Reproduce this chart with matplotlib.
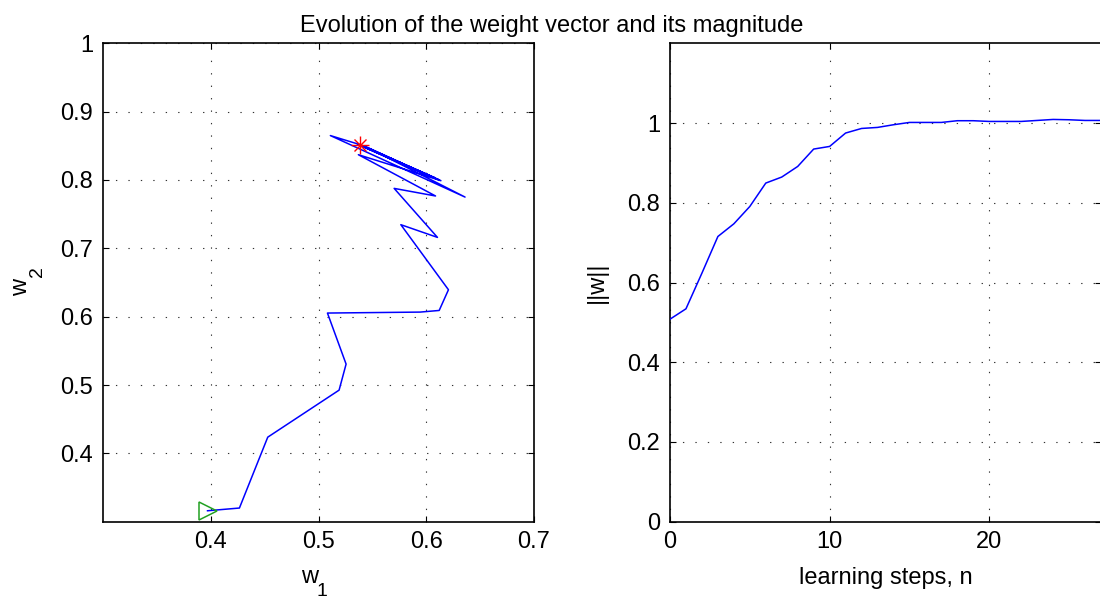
import matplotlib
matplotlib.use("Agg")
import matplotlib.pyplot as plt
import numpy as np

plt.rcParams['font.family'] = ['Liberation Sans', 'DejaVu Sans']

# ---- data ----
w1 = [0.397, 0.4266, 0.4529, 0.5191, 0.5256, 0.5083, 0.5943, 0.612, 0.6206,
      0.5764, 0.6104, 0.5702, 0.6086, 0.537, 0.6136, 0.542, 0.612, 0.536,
      0.6083, 0.540, 0.511, 0.636, 0.545, 0.6036, 0.538, 0.600, 0.541, 0.5386]
w2 = [0.316, 0.320, 0.4237, 0.4925, 0.5306, 0.6053, 0.6067, 0.6091, 0.6394,
      0.7346, 0.716, 0.7877, 0.7766, 0.837, 0.799, 0.849, 0.800, 0.853,
      0.803, 0.851, 0.865, 0.775, 0.848, 0.8053, 0.851, 0.808, 0.850, 0.8507]
steps = list(range(28))
wnorm = [0.508, 0.534, 0.6235, 0.7154, 0.7472, 0.7907, 0.8494, 0.8645, 0.8911,
         0.9347, 0.9413, 0.9749, 0.9864, 0.989, 0.9957, 1.0015, 1.0015, 1.0015,
         1.0058, 1.0058, 1.004, 1.004, 1.004, 1.0065, 1.009, 1.0082, 1.0065, 1.0065]

left_xticks = [0.4, 0.5, 0.6, 0.7]
left_yticks = [0.4, 0.5, 0.6, 0.7, 0.8, 0.9, 1.0]
left_xlabels = ['0.4', '0.5', '0.6', '0.7']
left_ylabels = ['0.4', '0.5', '0.6', '0.7', '0.8', '0.9', '1']
right_xticks = [0, 10, 20]
right_yticks = [0, 0.2, 0.4, 0.6, 0.8, 1.0]
right_ylabels = ['0', '0.2', '0.4', '0.6', '0.8', '1']

FS = 17
SUB = 14
W, H = 1100, 599
fig = plt.figure(figsize=(11, 5.99), dpi=100)

def px(x, y):
    return x / W, 1 - y / H

def style(ax):
    ax.tick_params(direction='in', length=4, width=0.8, top=True, right=True,
                   labelsize=FS, colors='black', pad=7)
    ax.grid(True, color='#333333', linestyle=(0, (1.2, 10)), linewidth=0.8)
    for s in ax.spines.values():
        s.set_linewidth(1.2)
    ax.set_axisbelow(True)

# ---- left axes ----
ax1 = fig.add_axes([0.09364, 0.12905, 0.39182, 0.79866])
ax1.plot(w1, w2, color='blue', lw=1.1, zorder=3)
ax1.plot(w1[0], w2[0], marker='>', ms=13, mfc='none', mec='#22a022', mew=1.1,
         ls='none', zorder=4)
ax1.plot(w1[-1], w2[-1], marker='+', ms=13, mec='red', mew=1.0, ls='none', zorder=4)
ax1.plot(w1[-1], w2[-1], marker='x', ms=9, mec='red', mew=1.0, ls='none', zorder=4)
ax1.set_xlim(0.3, 0.7)
ax1.set_ylim(0.3, 1.0)
ax1.set_xticks(left_xticks)
ax1.set_xticklabels(left_xlabels)
ax1.set_yticks(left_yticks)
ax1.set_yticklabels(left_ylabels)
style(ax1)

# x label w_1 (MATLAB-style subscript)
fig.text(*px(309.5, 583), 'w', ha='center', va='baseline', fontsize=FS)
fig.text(*px(316.5, 595.5), '1', ha='left', va='baseline', fontsize=SUB)
# y label w_2
fig.text(*px(27, 287), 'w', ha='center', va='baseline', fontsize=FS,
         rotation=90, rotation_mode='anchor')
fig.text(*px(42, 277), '2', ha='left', va='baseline', fontsize=SUB,
         rotation=90, rotation_mode='anchor')

# ---- right axes ----
ax2 = fig.add_axes([0.60909, 0.12905, 0.39182, 0.79866])
ax2.plot(steps, wnorm, color='blue', lw=1.1, zorder=3)
ax2.set_xlim(0, 27)
ax2.set_ylim(0, 1.2)
ax2.set_xticks(right_xticks)
ax2.set_yticks(right_yticks)
ax2.set_yticklabels(right_ylabels)
style(ax2)
fig.text(*px(885.5, 584), 'learning steps, n', ha='center', va='baseline',
         fontsize=FS)
ax2.set_ylabel('||w||', fontsize=FS, labelpad=14)

fig.text(0.5014, 0.9466, 'Evolution of the weight vector and its magnitude',
         ha='center', va='baseline', fontsize=FS)

fig.savefig('out.png', dpi=100)
